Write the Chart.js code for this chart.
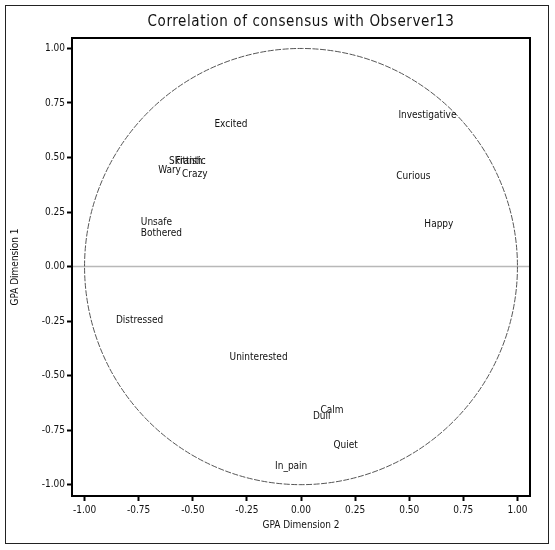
<!DOCTYPE html>
<html>
<head>
<meta charset="utf-8">
<script src="https://cdn.jsdelivr.net/npm/chart.js@4/dist/chart.umd.min.js"></script>
<style>
  html, body { margin: 0; padding: 0; background: #fff; }
  #wrap { width: 555px; height: 550px; }
</style>
</head>
<body>
<div id="wrap"><canvas id="c" width="555" height="550"></canvas></div>
<script>
// Attribute loadings on the two GPA dimensions
const terms = ["Excited", "Investigative", "Curious", "Happy", "Wary", "Skittish", "Frantic", "Crazy",
               "Unsafe", "Bothered", "Distressed", "Uninterested", "Dull", "Calm", "Quiet", "In_pain"];
const dim2 = [-0.40, 0.45, 0.44, 0.57, -0.66, -0.61, -0.58, -0.55,
              -0.74, -0.74, -0.855, -0.33, 0.055, 0.09, 0.15, -0.12];
const dim1 = [0.64, 0.68, 0.40, 0.18, 0.43, 0.47, 0.47, 0.41,
              0.19, 0.14, -0.26, -0.43, -0.70, -0.67, -0.83, -0.93];
const tickValues = [-1.00, -0.75, -0.50, -0.25, 0.00, 0.25, 0.50, 0.75, 1.00];

const chartTitle = "Correlation of consensus with Observer13";
const xTitle = "GPA Dimension 2";
const yTitle = "GPA Dimension 1";

const FONT = "'Liberation Sans Narrow', 'DejaVu Sans Condensed', 'Liberation Sans', sans-serif";

const points = terms.map((t, i) => ({ x: dim2[i], y: dim1[i], label: t }));

// Unit circle, zero line, frame, outer border, labels and title
const decor = {
  id: 'decor',
  beforeDatasetsDraw(chart) {
    const { ctx, chartArea: a, scales: { x, y } } = chart;
    ctx.save();
    // zero line
    const y0 = y.getPixelForValue(0);
    ctx.strokeStyle = '#b8b8b8';
    ctx.lineWidth = 1.5;
    ctx.beginPath();
    ctx.moveTo(a.left, y0);
    ctx.lineTo(a.right, y0);
    ctx.stroke();
    // unit circle
    const cx = x.getPixelForValue(0), cy = y0;
    const rx = x.getPixelForValue(1) - cx;
    const ry = cy - y.getPixelForValue(1);
    ctx.strokeStyle = '#555';
    ctx.lineWidth = 1;
    ctx.setLineDash([6, 1.5]);
    ctx.beginPath();
    ctx.ellipse(cx, cy, rx, ry, 0, 0, Math.PI * 2);
    ctx.stroke();
    ctx.restore();
  },
  afterDraw(chart) {
    const { ctx, chartArea: a, scales: { x, y } } = chart;
    ctx.save();
    // plot frame
    ctx.strokeStyle = '#000';
    ctx.lineWidth = 2;
    ctx.strokeRect(a.left, a.top, a.right - a.left, a.bottom - a.top);
    // outer border
    ctx.lineWidth = 1;
    ctx.strokeStyle = '#222';
    ctx.strokeRect(5.5, 5.5, 543, 538);
    // point labels
    ctx.fillStyle = '#111';
    ctx.font = "10px " + FONT;
    ctx.textAlign = 'left';
    ctx.textBaseline = 'alphabetic';
    points.forEach(p => {
      ctx.fillText(p.label, x.getPixelForValue(p.x), y.getPixelForValue(p.y));
    });
    // title
    ctx.font = "15px " + FONT;
    ctx.textAlign = 'center';
    ctx.textBaseline = 'middle';
    ctx.fillStyle = '#111';
    if ('letterSpacing' in ctx) ctx.letterSpacing = '0.6px';
    ctx.fillText(chartTitle, (a.left + a.right) / 2, 22);
    ctx.restore();
  }
};

new Chart(document.getElementById('c'), {
  type: 'scatter',
  data: {
    datasets: [{
      data: points,
      pointRadius: 0,
      pointHoverRadius: 0,
      showLine: false
    }]
  },
  options: {
    responsive: false,
    animation: false,
    events: [],
    layout: { padding: { top: 38, right: 25, left: 0, bottom: 0 } },
    plugins: { legend: { display: false }, tooltip: { enabled: false }, title: { display: false } },
    scales: {
      x: {
        type: 'linear',
        min: -1.058, max: 1.058,
        afterBuildTicks(s) { s.ticks = tickValues.map(v => ({ value: v })); },
        afterFit(s) { s.height = 54; },
        border: { display: true, color: '#000', width: 2 },
        grid: { drawOnChartArea: false, drawTicks: true, tickLength: 5, tickWidth: 2, color: '#000' },
        ticks: {
          color: '#111', padding: 3, maxRotation: 0, autoSkip: false,
          font: { size: 10, family: FONT },
          callback: v => Number(v).toFixed(2)
        },
        title: { display: true, text: xTitle, color: '#111', font: { size: 10, family: FONT }, padding: { top: 0, bottom: 19 } }
      },
      y: {
        type: 'linear',
        min: -1.052, max: 1.048,
        afterBuildTicks(s) { s.ticks = tickValues.map(v => ({ value: v })); },
        afterFit(s) { s.width = 72; },
        border: { display: true, color: '#000', width: 2 },
        grid: { drawOnChartArea: false, drawTicks: true, tickLength: 5, tickWidth: 2, color: '#000' },
        ticks: {
          color: '#111', padding: 2, autoSkip: false,
          font: { size: 10, family: FONT },
          callback: v => Number(v).toFixed(2)
        },
        title: { display: true, text: yTitle, color: '#111', font: { size: 10, family: FONT }, padding: { top: 9, bottom: 0 } }
      }
    }
  },
  plugins: [decor]
});
</script>
</body>
</html>
